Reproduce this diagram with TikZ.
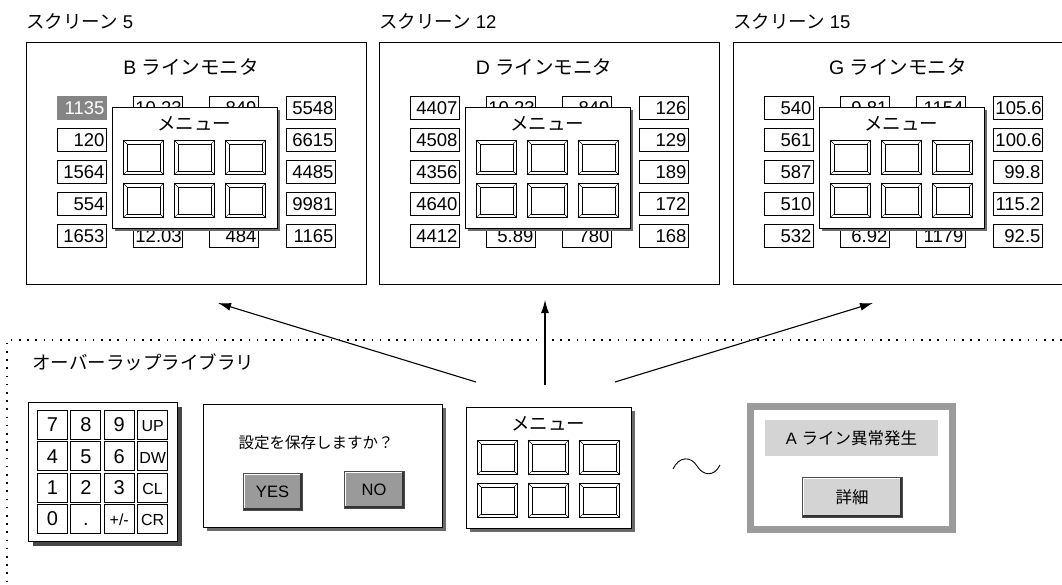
\documentclass[tikz,border=0pt]{standalone}
\usepackage{fontspec}
\setmainfont{Liberation Sans}
\newfontfamily\jp{Noto Sans CJK JP}
\usetikzlibrary{arrows.meta}

\definecolor{hotgray}{HTML}{858585}
\definecolor{shadegray}{HTML}{6A6A6A}
\definecolor{darkshade}{HTML}{474747}
\definecolor{btngray}{HTML}{9A9A9A}
\definecolor{lightbtn}{HTML}{D4D4D4}
\definecolor{framegray}{HTML}{9B9B9B}

\newcommand{\ks}{\fontsize{16}{18}\selectfont}

% bevelled button of a menu window
\newcommand{\bevelbtn}[3]{%
  \node[btnframe] (#1) at ({#2},{#3}) {};
  \draw[thin] ([shift={(4,4)}]#1.north west) rectangle ([shift={(-4,-4)}]#1.south east);
  \draw[thin] (#1.north west) -- ++(4,4) (#1.north east) -- ++(-4,4)
              (#1.south west) -- ++(4,-4) (#1.south east) -- ++(-4,-4);
}

% menu window: name, left, top, shadow offset
\newcommand{\menuwin}[4]{%
  \fill[shadegray] ({#2+#4},{#3+#4}) rectangle ++(165,121);
  \node[winframe] (#1) at ({#2},{#3}) {};
  \node[font=\jp\fontsize{18.5}{20}\selectfont] (#1-label) at ({#2+82},{#3+17}) {メニュー};
  \foreach \bc in {0,1,2} {
    \foreach \br in {0,1} {
      \bevelbtn{#1-b\bc\br}{#2+11+51*\bc}{#3+33+43*\br}
    }
  }
}

% screen: name, left, number, letter, col1, col2, col3, col4, first cell style
\newcommand{\monitor}[9]{%
  \node[anchor=west,inner sep=0,font=\fontsize{18.5}{20}\selectfont] (#1-name) at (#2,21) {{\jp スクリーン} #3};
  \node[screenframe] (#1) at (#2,42) {};
  \node[font=\fontsize{19.5}{21}\selectfont] (#1-head) at ({#2+165},67) {#4 {\jp ラインモニタ}};
  \foreach \v [count=\i] in {#5} {
    \ifnum\i=1 \tikzset{cellstyle/.style={#9}}\else\tikzset{cellstyle/.style={}}\fi
    \node[valbox,cellstyle] (#1-a\i) at ({#2+31},{96+32*(\i-1)}) {\v};
  }
  \foreach \v [count=\i] in {#6}
    \node[valbox] (#1-b\i) at ({#2+107},{96+128*(\i-1)}) {\v};
  \foreach \v [count=\i] in {#7}
    \node[valbox] (#1-c\i) at ({#2+183},{96+128*(\i-1)}) {\v};
  \foreach \v [count=\i] in {#8}
    \node[valbox] (#1-d\i) at ({#2+260},{96+32*(\i-1)}) {\v};
  \menuwin{#1-menu}{#2+86}{107}{3}
}

\begin{document}
\begin{tikzpicture}[x=1pt,y=-1pt,
    lw/.style={line width=0.9pt},
    screenframe/.style={draw,lw,anchor=north west,inner sep=0,minimum width=340pt,minimum height=242pt},
    valbox/.style={draw,lw,fill=white,anchor=north west,inner sep=2pt,text width=45pt,align=right,
        minimum height=23pt,font=\fontsize{18.5}{20}\selectfont},
    winframe/.style={draw,lw,fill=white,anchor=north west,inner sep=0,minimum width=165pt,minimum height=121pt},
    btnframe/.style={draw,lw,fill=white,anchor=north west,inner sep=0,minimum width=40pt,minimum height=34pt},
    keybox/.style={draw,lw,fill=white,anchor=north west,inner sep=0,minimum width=30pt,minimum height=29pt,
        text height=14pt,text depth=0pt,font=\fontsize{20}{22}\selectfont},
    pushbtn/.style={draw=black!70,lw,inner sep=0},
    libtext/.style={font=\fontsize{18.5}{20}\selectfont\jp},
    link/.style={line width=1.1pt,-{Latex[length=13pt,width=8pt]}}]
\useasboundingbox (0,0) rectangle (1062,584);
\clip (0,0) rectangle (1062,584);

% the three screens
\monitor{scr5}{26}{5}{B}{1135,120,1564,554,1653}{10.23,12.03}{849,484}{5548,6615,4485,9981,1165}{fill=hotgray,draw=hotgray,text=white}
\monitor{scr12}{379}{12}{D}{4407,4508,4356,4640,4412}{10.23,5.89}{849,780}{126,129,189,172,168}{}
\monitor{scr15}{733}{15}{G}{540,561,587,510,532}{9.81,6.92}{1154,1179}{105.6,100.6,99.8,115.2,92.5}{}

% library area
\draw[line width=1.6pt,dash pattern=on 1.6pt off 6.6pt] (1062,340) -- (7,340) -- (7,584);
\node[libtext,anchor=west,inner sep=0] (libname) at (32,362) {オーバーラップライブラリ};

% keypad
\fill[darkshade] (33,407) rectangle ++(149,139);
\node[draw,lw,fill=white,anchor=north west,inner sep=0,minimum width=149pt,minimum height=139pt] (keypad) at (28,402) {};
\foreach \ky/\keys in {0/{7,8,9,\ks UP},1/{4,5,6,\ks DW},2/{1,2,3,\ks CL},3/{0,.,\ks +/-,\ks CR}}
  \foreach \t [count=\kx from 0] in \keys
    \node[keybox] (key-\ky-\kx) at ({37+33.4*\kx},{410+31.3*\ky}) {\t};

% yes/no dialog
\fill[shadegray] (207,408) rectangle ++(239,123);
\node[draw,lw,fill=white,anchor=north west,inner sep=0,minimum width=239pt,minimum height=123pt] (dlg) at (203,404) {};
\node[font=\fontsize{15.5}{18}\selectfont\jp] (dlg-msg) at (316,443) {設定を保存しますか？};
\node[pushbtn,fill=btngray,minimum width=59pt,minimum height=37pt,font=\fontsize{16.5}{18}\selectfont] (yes) at (272.5,491.5) {YES};
\node[pushbtn,fill=btngray,minimum width=60pt,minimum height=37pt,font=\fontsize{16.5}{18}\selectfont] (no) at (374,489.5) {NO};
\foreach \b in {yes,no} {
  \draw[white,line width=1.2pt] ([shift={(1.6,-1.6)}]\b.south west) -- ([shift={(1.6,1.6)}]\b.north west) -- ([shift={(-1.6,1.6)}]\b.north east);
  \draw[black!80,line width=1.4pt] ([shift={(-1.4,1)}]\b.north east) -- ([shift={(-1.4,-1.4)}]\b.south east) -- ([shift={(1,-1.4)}]\b.south west);
}

% menu window
\menuwin{lib}{466}{407}{4}

% tilde
\draw[lw] (673,469) .. controls (679,456) and (691,456) .. (697,466) .. controls (703,476) and (714,477) .. (720,465);

% alarm window
\node[draw=framegray,line width=7pt,fill=white,minimum width=202pt,minimum height=123pt,inner sep=0] (alarm) at (851.5,468) {};
\node[fill=lightbtn,minimum width=173pt,minimum height=36pt,inner sep=0,font=\fontsize{16.5}{18}\selectfont] (alarm-msg) at (851.5,438) {A {\jp ライン異常発生}};
\node[pushbtn,fill=lightbtn,minimum width=100pt,minimum height=40pt,font=\fontsize{16.5}{18}\selectfont\jp] (alarm-btn) at (852,497) {詳細};
\draw[white,line width=1.2pt] ([shift={(1.6,-1.6)}]alarm-btn.south west) -- ([shift={(1.6,1.6)}]alarm-btn.north west) -- ([shift={(-1.6,1.6)}]alarm-btn.north east);
\draw[black!80,line width=1.4pt] ([shift={(-1.4,1)}]alarm-btn.north east) -- ([shift={(-1.4,-1.4)}]alarm-btn.south east) -- ([shift={(1,-1.4)}]alarm-btn.south west);

% arrows to the screens
\coordinate (lib-l) at (476,382);
\coordinate (lib-m) at (545,385);
\coordinate (lib-r) at (615,382);
\coordinate (scr5-in) at (218,303);
\coordinate (scr12-in) at (545,300);
\coordinate (scr15-in) at (873,303);
\draw[link] (lib-l) -- (scr5-in);
\draw[link] (lib-m) -- (scr12-in);
\draw[link] (lib-r) -- (scr15-in);
\end{tikzpicture}
\end{document}
